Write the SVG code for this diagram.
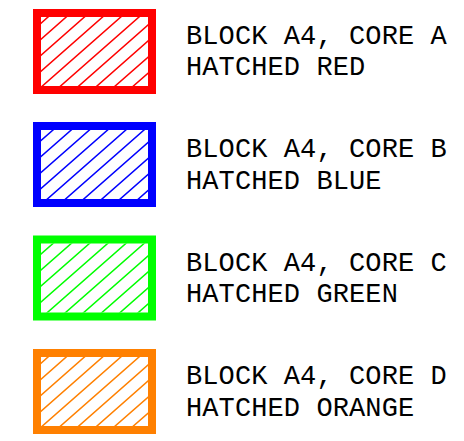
<svg xmlns="http://www.w3.org/2000/svg" xmlns:xlink="http://www.w3.org/1999/xlink" width="464" height="441" viewBox="0 0 464 441">
  <style>
    .frame { fill: #ffffff; stroke-width: 8; }
    .label { font-family: "Liberation Mono", "DejaVu Sans Mono", monospace; font-size: 27px; letter-spacing: 0.1px; fill: #000000; }
    .hatch { fill: none; stroke-width: 1.5; }
  </style>
  <defs>
    <clipPath id="inner" clipPathUnits="userSpaceOnUse">
      <rect x="0" y="0" width="107" height="69"/>
    </clipPath>
    <path id="hatch" class="hatch" d="M8.8,-17.6 l-120,105.6 M27,-17.6 l-120,105.6 M45.2,-17.6 l-120,105.6 M63.4,-17.6 l-120,105.6 M81.6,-17.6 l-120,105.6 M99.8,-17.6 l-120,105.6 M118,-17.6 l-120,105.6 M136.2,-17.6 l-120,105.6 M154.4,-17.6 l-120,105.6 M172.6,-17.6 l-120,105.6 M190.8,-17.6 l-120,105.6 M209,-17.6 l-120,105.6 M227.2,-17.6 l-120,105.6"/>
  </defs>
  <rect width="464" height="441" fill="#ffffff"/>

  <g id="core-a">
    <rect class="frame" x="37" y="13" width="115" height="77" stroke="#ff0000"/>
    <g transform="translate(41,17)"><g clip-path="url(#inner)"><use xlink:href="#hatch" href="#hatch" stroke="#ff0000" style="stroke-width:1.8"/></g></g>
    <text class="label" x="186" y="43.5">BLOCK A4, CORE A</text>
    <text class="label" x="186" y="75">HATCHED RED</text>
  </g>

  <g id="core-b">
    <rect class="frame" x="37" y="126" width="115" height="77" stroke="#0000ff"/>
    <g transform="translate(41,130)"><g clip-path="url(#inner)"><use xlink:href="#hatch" href="#hatch" x="5" stroke="#0000ff"/></g></g>
    <text class="label" x="186" y="157">BLOCK A4, CORE B</text>
    <text class="label" x="186" y="188.5">HATCHED BLUE</text>
  </g>

  <g id="core-c">
    <rect class="frame" x="37" y="239.5" width="115" height="77" stroke="#00ff00"/>
    <g transform="translate(41,243.5)"><g clip-path="url(#inner)"><use xlink:href="#hatch" href="#hatch" x="5" stroke="#00ff00"/></g></g>
    <text class="label" x="186" y="270.5">BLOCK A4, CORE C</text>
    <text class="label" x="186" y="302">HATCHED GREEN</text>
  </g>

  <g id="core-d">
    <rect class="frame" x="37" y="353" width="115" height="77" stroke="#ff8000"/>
    <g transform="translate(41,357)"><g clip-path="url(#inner)"><use xlink:href="#hatch" href="#hatch" stroke="#ff8000"/></g></g>
    <text class="label" x="186" y="384">BLOCK A4, CORE D</text>
    <text class="label" x="186" y="415.5">HATCHED ORANGE</text>
  </g>
</svg>
